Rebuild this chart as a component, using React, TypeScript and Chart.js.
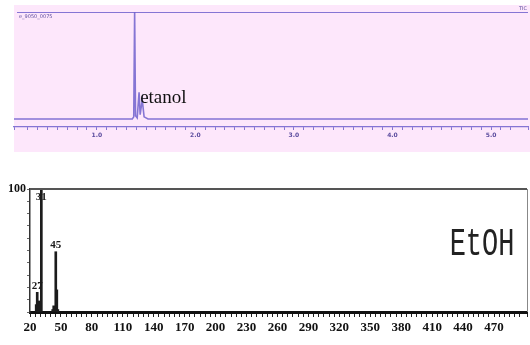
import React, { useEffect, useRef } from 'react';
import { Chart, registerables } from 'chart.js';
Chart.register(...registerables);

// ---- Chromatogram (TIC) ----
const rtMinutes = [0.16, 1.36, 1.375, 1.384, 1.393, 1.41, 1.429, 1.44, 1.461, 1.48, 1.52, 5.375];
const ticIntensity = [0, 0, 2, 100, 3, 1, 25, 4, 18, 2, 0, 0];
const rtTickLabels = ['1.0', '2.0', '3.0', '4.0', '5.0'];
const peakName = 'etanol';
const peakNameRt = 1.44;
const fileName = 'e_9050_0075';
const traceName = 'TIC';

// ---- Mass spectrum ----
const mzValues = [26, 27, 28, 29, 30, 31, 42, 43, 44, 45, 46, 47];
const relAbundance = [6, 16, 5, 9, 4, 100, 2, 5, 3, 49, 18, 2];
const labeledIons = [27, 31, 45];
const mzTickLabels = [20, 50, 80, 110, 140, 170, 200, 230, 260, 290, 320, 350, 380, 410, 440, 470];
const yTickLabels = [100];
const compoundLabel = 'EtOH';

const PURPLE = 'rgba(112, 96, 205, 0.85)';
const PURPLE_TEXT = '#5b4c9e';
const SERIF = '"Liberation Serif", serif';

export default function App() {
  const topRef = useRef<HTMLCanvasElement | null>(null);
  const botRef = useRef<HTMLCanvasElement | null>(null);

  useEffect(() => {
    document.body.style.margin = '0';
    document.body.style.background = '#ffffff';

    const topPlugin = {
      id: 'topDeco',
      beforeDraw(chart: any) {
        const { ctx, chartArea } = chart;
        ctx.save();
        ctx.fillStyle = '#fde7fb';
        ctx.fillRect(chartArea.left, chartArea.top - 7, chart.width - chartArea.left, chartArea.bottom - chartArea.top + 32);
        ctx.restore();
      },
      afterDraw(chart: any) {
        const { ctx, chartArea, scales } = chart;
        ctx.save();
        ctx.strokeStyle = PURPLE;
        ctx.lineWidth = 1.2;
        ctx.beginPath();
        ctx.moveTo(chartArea.left + 3, chartArea.top + 0.5);
        ctx.lineTo(chartArea.right, chartArea.top + 0.5);
        ctx.stroke();
        ctx.fillStyle = PURPLE_TEXT;
        ctx.font = '5px "DejaVu Sans"';
        ctx.textBaseline = 'top';
        ctx.textAlign = 'left';
        ctx.fillText(fileName, chartArea.left + 5, chartArea.top + 2);
        ctx.textAlign = 'right';
        ctx.textBaseline = 'bottom';
        ctx.fillText(traceName, chartArea.right - 1, chartArea.top - 0.5);
        const x = scales.x.getPixelForValue(peakNameRt);
        ctx.fillStyle = '#111';
        ctx.font = '19px "Liberation Serif"';
        ctx.textAlign = 'left';
        ctx.textBaseline = 'alphabetic';
        ctx.fillText(peakName, x, scales.y.getPixelForValue(15));
        ctx.restore();
      },
    };

    const topChart = new Chart(topRef.current as HTMLCanvasElement, {
      type: 'line',
      data: {
        datasets: [
          {
            data: rtMinutes.map((x, i) => ({ x, y: ticIntensity[i] })),
            borderColor: PURPLE,
            borderWidth: 1.6,
            pointRadius: 0,
            tension: 0,
            fill: false,
          },
        ],
      },
      options: {
        animation: false,
        responsive: false,
        layout: { padding: { left: 14, top: 12, right: 0, bottom: 0 } },
        plugins: { legend: { display: false }, tooltip: { enabled: false } },
        scales: {
          x: {
            type: 'linear',
            min: 0.16,
            max: 5.375,
            afterFit: (s: any) => { s.height = 33; },
            border: { display: true, color: PURPLE, width: 1.2 },
            grid: { drawOnChartArea: false, drawTicks: true, tickLength: 3, color: PURPLE },
            ticks: {
              stepSize: 0.1,
              autoSkip: false,
              maxRotation: 0,
              padding: 2,
              color: PURPLE_TEXT,
              font: { size: 6, weight: 'bold', family: '"DejaVu Sans"' },
              callback: (v: any) => {
                const f = rtTickLabels.find((l) => Math.abs(parseFloat(l) - Number(v)) < 1e-6);
                return f ?? '';
              },
            },
          },
          y: { display: false, min: -7.5, max: 100 },
        },
      },
      plugins: [topPlugin],
    } as any);

    const botPlugin = {
      id: 'botDeco',
      afterDraw(chart: any) {
        const { ctx, chartArea, scales } = chart;
        ctx.save();
        ctx.strokeStyle = '#555';
        ctx.lineWidth = 2;
        ctx.beginPath();
        ctx.moveTo(chartArea.left, chartArea.top);
        ctx.lineTo(chartArea.right, chartArea.top);
        ctx.stroke();
        ctx.lineWidth = 1;
        ctx.strokeStyle = '#888';
        ctx.beginPath();
        ctx.moveTo(chartArea.right + 0.5, chartArea.top);
        ctx.lineTo(chartArea.right + 0.5, chartArea.bottom);
        ctx.stroke();

        const meta = chart.getDatasetMeta(0);
        ctx.fillStyle = '#1a1a1a';
        ctx.font = 'bold 11px ' + SERIF;
        ctx.textAlign = 'center';
        labeledIons.forEach((mz) => {
          const idx = mzValues.indexOf(mz);
          const el = meta.data[idx];
          if (!el) return;
          if (relAbundance[idx] >= 95) {
            ctx.textBaseline = 'top';
            ctx.fillText(String(mz), el.x, chartArea.top + 3);
          } else {
            ctx.textBaseline = 'bottom';
            ctx.fillText(String(mz), el.x, el.y - 1);
          }
        });

        const lx = scales.x.getPixelForValue(427);
        const ly = scales.y.getPixelForValue(55);
        ctx.translate(lx, ly);
        ctx.scale(1, 1.45);
        ctx.font = '27px "Liberation Mono"';
        ctx.textAlign = 'left';
        ctx.textBaseline = 'middle';
        ctx.fillStyle = '#222';
        ctx.fillText(compoundLabel, 0, 0);
        ctx.restore();
      },
    };

    const botChart = new Chart(botRef.current as HTMLCanvasElement, {
      type: 'bar',
      data: {
        datasets: [
          {
            data: mzValues.map((x, i) => ({ x, y: relAbundance[i] })),
            backgroundColor: '#1c1c1c',
            barThickness: 2,
          },
        ],
      },
      options: {
        animation: false,
        responsive: false,
        layout: { padding: { left: 0, top: 29, right: 3, bottom: 0 } },
        plugins: { legend: { display: false }, tooltip: { enabled: false } },
        scales: {
          x: {
            type: 'linear',
            min: 20,
            max: 502,
            offset: false,
            afterFit: (s: any) => { s.height = 33; },
            border: { display: true, color: '#111', width: 3 },
            grid: { offset: false, drawOnChartArea: false, drawTicks: true, tickLength: 5, color: '#222', lineWidth: 1 },
            ticks: {
              stepSize: 5,
              autoSkip: false,
              maxRotation: 0,
              padding: 3,
              color: '#111',
              font: { size: 13, weight: 'bold', family: SERIF },
              callback: (v: any) => (mzTickLabels.includes(Number(v)) ? String(v) : ''),
            },
          },
          y: {
            min: 0,
            max: 100,
            afterFit: (s: any) => { s.width = 30; },
            border: { display: true, color: '#333', width: 1.5 },
            grid: { drawOnChartArea: false, drawTicks: true, tickLength: 3, color: '#666' },
            ticks: {
              stepSize: 10,
              autoSkip: false,
              padding: 1,
              color: '#111',
              font: { size: 12, weight: 'bold', family: SERIF },
              callback: (v: any) => (yTickLabels.includes(Number(v)) ? String(v) : ''),
            },
          },
        },
      },
      plugins: [botPlugin],
    } as any);

    return () => {
      topChart.destroy();
      botChart.destroy();
    };
  }, []);

  return (
    <div style={{ position: 'relative', width: 530, height: 345, background: '#fff' }}>
      <canvas ref={topRef} width={530} height={160} style={{ position: 'absolute', left: 0, top: 0 }} />
      <canvas ref={botRef} width={530} height={185} style={{ position: 'absolute', left: 0, top: 160 }} />
    </div>
  );
}
